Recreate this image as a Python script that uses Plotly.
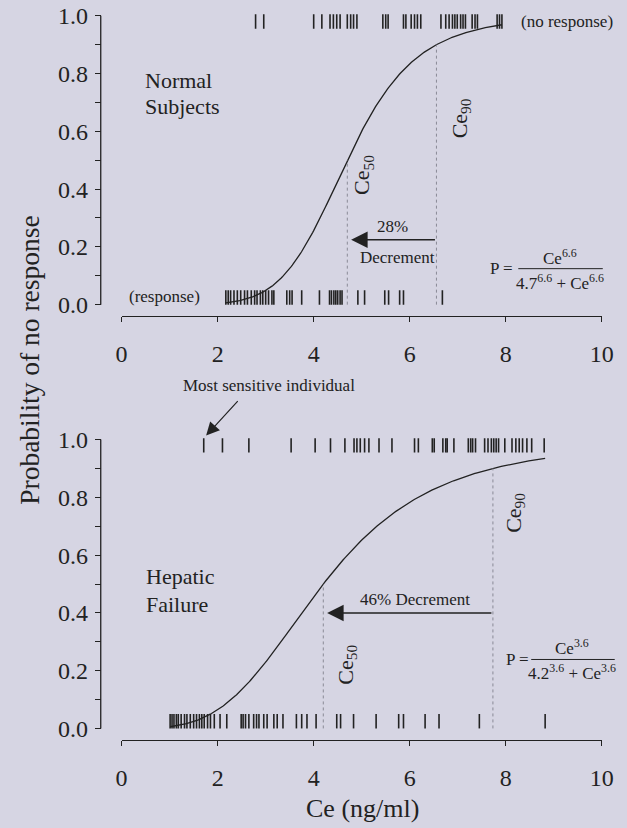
import numpy as np
import plotly.graph_objects as go

W, H = 627, 828

# ---------------- data ----------------
x_ticks = [0, 2, 4, 6, 8, 10]
y_ticks = [0.0, 0.2, 0.4, 0.6, 0.8, 1.0]
y_minor = [0.1, 0.3, 0.5, 0.7, 0.9]

# Normal subjects
normal_no_response = [2.79, 2.96, 4.00, 4.17, 4.34, 4.41, 4.48, 4.55, 4.70, 4.77,
                      4.83, 4.90, 5.44, 5.50, 5.55, 5.87, 5.92, 6.03, 6.10, 6.16,
                      6.23, 6.65, 6.75, 6.82, 6.89, 6.94, 6.99, 7.06, 7.11, 7.16,
                      7.30, 7.36, 7.41, 7.82, 7.87, 7.92]
normal_response = [2.17, 2.22, 2.27, 2.34, 2.41, 2.48, 2.56, 2.62, 2.70, 2.77,
                   2.82, 2.89, 2.94, 3.00, 3.06, 3.13, 3.17, 3.44, 3.50, 3.55,
                   3.75, 4.12, 4.33, 4.37, 4.42, 4.46, 4.50, 4.55, 4.59, 4.92,
                   5.06, 5.48, 5.56, 5.79, 5.87, 6.68]
normal_ce50, normal_gamma = 4.7, 6.6
normal_range = [2.17, 7.92]

# Hepatic failure
hepatic_no_response = [1.71, 2.10, 2.65, 3.53, 4.03, 4.35, 4.65, 4.84, 4.90, 4.97,
                       5.06, 5.15, 5.36, 5.63, 6.10, 6.18, 6.47, 6.51, 6.69, 6.75,
                       6.78, 6.92, 7.22, 7.27, 7.31, 7.37, 7.56, 7.63, 7.70, 7.75,
                       7.80, 7.85, 7.98, 8.13, 8.21, 8.28, 8.35, 8.44, 8.54, 8.80]
hepatic_response = [1.01, 1.05, 1.09, 1.14, 1.18, 1.24, 1.31, 1.36, 1.43, 1.50,
                    1.56, 1.62, 1.67, 1.72, 1.79, 1.85, 1.93, 2.05, 2.19, 2.49,
                    2.53, 2.58, 2.65, 2.75, 2.81, 2.86, 2.96, 3.03, 3.17, 3.24,
                    3.36, 3.64, 3.75, 3.86, 4.05, 4.48, 4.56, 4.83, 5.30, 5.77,
                    5.87, 6.32, 6.61, 7.45, 8.82]
hepatic_ce50, hepatic_gamma = 4.2, 3.6
hepatic_range = [1.01, 8.82]

# ---------------- styling ----------------
BG = "#d6d5e3"
INK = "#222222"
FONT = "Liberation Serif"


# layout helper: reference-pixel -> figure-pixel (empirical calibration)
def RX(r):
    return (r - 3.7) / 0.977


def RY(r):
    return (r - 9.2) / 0.986


X_L, X_R = RX(120), RX(603)     # pixel of x=0 and x=10
Y_AX_PX = RX(99)                # pixel x of the y axis line
YR = [-0.04, 1.01]
panels = [dict(one=RY(15), zero=RY(304)), dict(one=RY(439), zero=RY(728))]


def pp(px, py):
    return RX(px) / W, 1 - RY(py) / H


def ydom(p):
    ppu = p["zero"] - p["one"]
    top = p["one"] - (YR[1] - 1) * ppu
    bot = p["zero"] + (0 - YR[0]) * ppu
    return [1 - bot / H, 1 - top / H]


def rug(xs, y0, y1):
    X, Y = [], []
    for v in xs:
        X += [v, v, None]
        Y += [y0, y1, None]
    return X, Y


def hill(c, c50, g):
    return c ** g / (c50 ** g + c ** g)


fig = go.Figure()

sets = [
    (normal_no_response, normal_response, normal_ce50, normal_gamma, normal_range, "x", "y"),
    (hepatic_no_response, hepatic_response, hepatic_ce50, hepatic_gamma, hepatic_range, "x2", "y2"),
]
for nr, r, c50, g, rng, xa, ya in sets:
    X, Y = rug(nr, 0.955, 1.005)
    fig.add_trace(go.Scatter(x=X, y=Y, mode="lines", line=dict(color=INK, width=1.6),
                             xaxis=xa, yaxis=ya, hoverinfo="skip", showlegend=False))
    X, Y = rug(r, 0.0, 0.05)
    fig.add_trace(go.Scatter(x=X, y=Y, mode="lines", line=dict(color=INK, width=1.6),
                             xaxis=xa, yaxis=ya, hoverinfo="skip", showlegend=False))
    cx = np.linspace(rng[0], rng[1], 300)
    fig.add_trace(go.Scatter(x=cx, y=hill(cx, c50, g), mode="lines",
                             line=dict(color=INK, width=1.3),
                             xaxis=xa, yaxis=ya, hoverinfo="skip", showlegend=False))
    c90 = c50 * 9 ** (1 / g)
    for cc, pv in [(c50, 0.5), (c90, 0.9)]:
        fig.add_trace(go.Scatter(x=[cc, cc], y=[0, pv], mode="lines",
                                 line=dict(color="#8a8a96", width=1, dash="dot"),
                                 xaxis=xa, yaxis=ya, hoverinfo="skip", showlegend=False))

xdom = [X_L / W, X_R / W]
axis_font = dict(family=FONT, size=24, color=INK)
common_x = dict(domain=xdom, range=[0, 10], tickvals=x_ticks, ticktext=[str(v) for v in x_ticks],
                showline=True, linecolor=INK, linewidth=1.3, ticks="outside", ticklen=5,
                tickwidth=1.3, tickcolor=INK, showgrid=False, zeroline=False,
                tickfont=axis_font, ticklabelstandoff=11)
common_y = dict(range=YR, tickvals=y_ticks, ticktext=["%.1f" % v for v in y_ticks],
                showline=False, ticks="outside", ticklen=6, tickwidth=1.3, tickcolor=INK,
                minor=dict(tickvals=y_minor, ticks="outside", ticklen=6, tickwidth=1.3, tickcolor=INK),
                showgrid=False, zeroline=False, tickfont=axis_font, anchor="free",
                position=Y_AX_PX / W, ticklabelstandoff=2)

fig.update_layout(
    width=W, height=H, margin=dict(l=0, r=0, t=0, b=0),
    paper_bgcolor=BG, plot_bgcolor=BG, showlegend=False,
    font=dict(family=FONT, color=INK, size=16),
    xaxis=dict(common_x, anchor="y"),
    xaxis2=dict(common_x, anchor="y2"),
    yaxis=dict(common_y, domain=ydom(panels[0])),
    yaxis2=dict(common_y, domain=ydom(panels[1])),
)

# y axis lines spanning only 0..1
for ya in ["y", "y2"]:
    fig.add_shape(type="line", xref="paper", yref=ya, x0=Y_AX_PX / W, x1=Y_AX_PX / W,
                  y0=0, y1=1, line=dict(color=INK, width=1.3))

ann = []


def text(px, py, s, size=16, angle=0, xanchor="center", yanchor="middle", align="center"):
    x, y = pp(px, py)
    ann.append(dict(xref="paper", yref="paper", x=x, y=y, text=s, showarrow=False,
                    font=dict(family=FONT, size=size, color=INK), textangle=angle,
                    xanchor=xanchor, yanchor=yanchor, align=align))


def hline(pxa, pxb, py):
    xa, ya_ = pp(pxa, py)
    xb, _ = pp(pxb, py)
    fig.add_shape(type="line", xref="paper", yref="paper", x0=xa, x1=xb, y0=ya_, y1=ya_,
                  line=dict(color=INK, width=1))


# top panel texts
text(142, 80, "Normal", size=22, xanchor="left")
text(142, 106, "Subjects", size=22, xanchor="left")
text(568, 21, "(no response)", size=17)
text(163, 296, "(response)", size=17)
text(363, 174, "Ce<sub>50</sub>", size=22, angle=-90)
text(461, 118, "Ce<sub>90</sub>", size=22, angle=-90)
text(392, 226, "28%", size=17)
text(397, 257, "Decrement", size=17)
# top equation
text(502, 268, "P =", size=17)
text(561, 256, "Ce<sup>6.6</sup>", size=17)
text(561, 281, "4.7<sup>6.6</sup> + Ce<sup>6.6</sup>", size=17)
hline(519, 604, 268)

# bottom panel texts
text(268, 385, "Most sensitive individual", size=17)
text(143, 576, "Hepatic", size=22, xanchor="left")
text(143, 604, "Failure", size=22, xanchor="left")
text(347, 664, "Ce<sub>50</sub>", size=22, angle=-90)
text(515, 512, "Ce<sub>90</sub>", size=22, angle=-90)
text(415, 599, "46% Decrement", size=17)
text(518, 659, "P =", size=17)
text(573, 647, "Ce<sup>3.6</sup>", size=17)
text(573, 672, "4.2<sup>3.6</sup> + Ce<sup>3.6</sup>", size=17)
hline(532, 616, 659)

# axis titles
text(27, 360, "Probability of no response", size=27.5, angle=-90)
text(362, 808, "Ce (ng/ml)", size=26)

# arrows
n90 = normal_ce50 * 9 ** (1 / normal_gamma)
h90 = hepatic_ce50 * 9 ** (1 / hepatic_gamma)
ann.append(dict(xref="x", yref="y", x=4.78, y=0.225, axref="x", ayref="y", ax=n90, ay=0.225,
                text="", showarrow=True, arrowhead=2, arrowsize=2.2, arrowwidth=1.5,
                arrowcolor=INK))
ann.append(dict(xref="x2", yref="y2", x=4.28, y=0.40, axref="x2", ayref="y2", ax=h90, ay=0.40,
                text="", showarrow=True, arrowhead=2, arrowsize=2.2, arrowwidth=1.5,
                arrowcolor=INK))
tx, ty = pp(205, 435)
ann.append(dict(xref="paper", yref="paper", x=tx, y=ty, ax=33, ay=-36, text="",
                showarrow=True, arrowhead=2, arrowsize=2.2, arrowwidth=1.2, arrowcolor=INK))

fig.update_layout(annotations=ann)
fig.write_html("out.html", config={"displayModeBar": False},
               post_script="document.body.style.margin='0';document.body.style.overflow='hidden';")
